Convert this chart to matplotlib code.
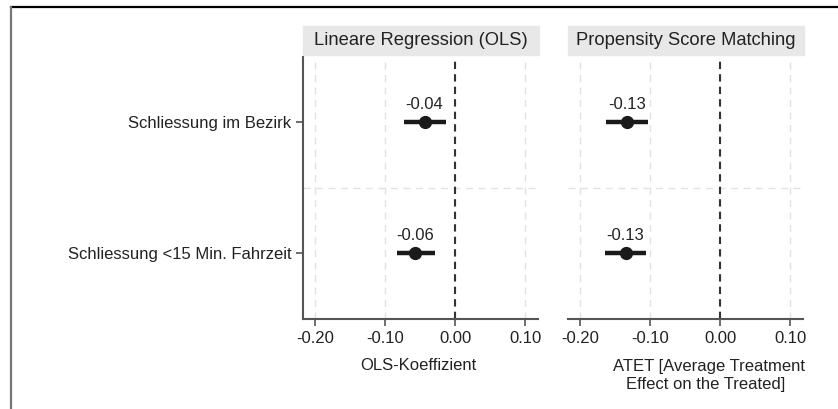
import matplotlib.pyplot as plt
from matplotlib.lines import Line2D
from matplotlib.patches import Rectangle

plt.rcParams['font.family'] = ['Liberation Sans', 'DejaVu Sans']

rows = ["Schliessung im Bezirk", "Schliessung <15 Min. Fahrzeit"]
ols_coef = [-0.044, -0.057]
ols_lo = [-0.074, -0.084]
ols_hi = [-0.014, -0.029]
ols_lab = ["-0.04", "-0.06"]
psm_coef = [-0.133, -0.135]
psm_lo = [-0.163, -0.164]
psm_hi = [-0.103, -0.106]
psm_lab = ["-0.13", "-0.13"]
xticks = [-0.2, -0.1, 0.0, 0.1]
xticklabels = ["-0.20", "-0.10", "0.00", "0.10"]
titles = ["Lineare Regression (OLS)", "Propensity Score Matching"]

W, H = 838, 409
fig = plt.figure(figsize=(W / 100, H / 100), dpi=100)

txt = '#222222'
spine = '#555555'
fs = 12

panels = [
    (302.7, ols_coef, ols_lo, ols_hi, ols_lab, titles[0]),
    (567.5, psm_coef, psm_lo, psm_hi, psm_lab, titles[1]),
]
for k, (x0, coef, lo, hi, lab, title) in enumerate(panels):
    ax = fig.add_axes([x0 / W, 1 - 318.6 / H, 235.3 / W, (318.6 - 57) / H])
    ypos = list(range(1, len(rows) + 1))
    ax.set_xlim(-0.218, 0.118)
    ax.set_ylim(2.5, 0.5)
    for t in xticks:
        ax.axvline(t, color='#e2e2e2', lw=1, ls=(0, (5, 4)), zorder=0)
    ax.axhline(1.5, color='#e2e2e2', lw=1, ls=(0, (5, 4)), zorder=0)
    ax.axvline(0, color='#333333', lw=1.5, ls=(0, (3.5, 2.5)), zorder=1)
    ax.hlines(ypos, lo, hi, color='#1a1a1a', lw=3.2, zorder=2)
    ax.plot(coef, ypos, 'o', color='#1a1a1a', ms=8.5, zorder=3)
    for c, y, s in zip(coef, ypos, lab):
        ax.annotate(s, (c, y), xytext=(0, 7.5), textcoords='offset points',
                    ha='center', va='bottom', fontsize=fs, color=txt)
    ax.set_xticks(xticks)
    ax.set_xticklabels(xticklabels, fontsize=fs, color=txt)
    ax.tick_params(axis='x', length=5, width=1.2, color=spine, pad=4)
    for s in ['top', 'right']:
        ax.spines[s].set_visible(False)
    ax.spines['bottom'].set_color(spine)
    ax.spines['bottom'].set_linewidth(1.5)
    if k == 0:
        ax.set_yticks(ypos)
        ax.set_yticklabels(rows, fontsize=fs, color=txt)
        ax.tick_params(axis='y', length=5, width=1.2, color=spine, pad=3)
        ax.spines['left'].set_color(spine)
        ax.spines['left'].set_linewidth(1.5)
    else:
        ax.set_yticks([])
        ax.spines['left'].set_visible(False)
    # title strip
    fig.patches.append(Rectangle((x0 / W, 1 - 55 / H), 236 / W, 29 / H,
                                 transform=fig.transFigure, color='#e8e8e8', zorder=0))
    fig.text((x0 + 118) / W, 1 - 40.5 / H, title, ha='center', va='center',
             fontsize=13.2, color=txt)

fig.text(418 / W, 1 - 366 / H, "OLS-Koeffizient", ha='center', va='center',
         fontsize=fs, color=txt)
fig.text(709 / W, 1 - 366 / H, "ATET [Average Treatment", ha='center', va='center',
         fontsize=fs, color=txt)
fig.text(706 / W, 1 - 384 / H, "Effect on the Treated]", ha='center', va='center',
         fontsize=fs, color=txt)

# frame lines of the original image
fig.add_artist(Line2D([11 / W, 1], [1 - 7 / H, 1 - 7 / H], color='black', lw=1.6))
fig.add_artist(Line2D([11 / W, 11 / W], [0, 1 - 7 / H], color='#777777', lw=1.6))

fig.savefig('out.png', dpi=100)
